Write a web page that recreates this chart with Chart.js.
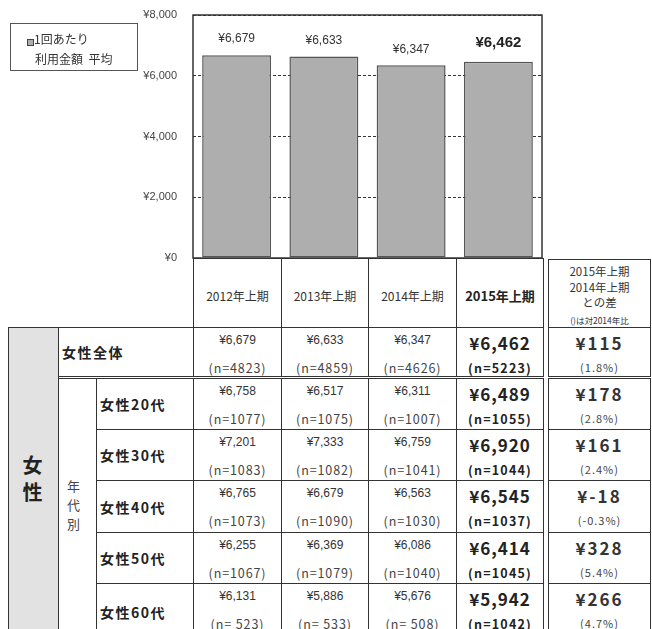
<!DOCTYPE html>
<html lang="ja">
<head>
<meta charset="utf-8">
<script src="https://cdn.jsdelivr.net/npm/chart.js@4.4.0/dist/chart.umd.min.js"></script>
<style>
  html, body { margin: 0; padding: 0; background: #fff; }
  #page { position: relative; width: 652px; height: 629px; overflow: hidden;
          font-family: "Noto Sans CJK JP", sans-serif; color: #333; }
  #chartBox { position: absolute; left: 0; top: 0; width: 652px; height: 272px; z-index: 2; }
  .cell { position: absolute; box-sizing: border-box; border: 1px solid #333; background: #fff; }
  .txt { position: absolute; left: 0; right: 0; text-align: center; white-space: pre;
         line-height: 1; transform: translateY(-50%); }
  .val { font: 12px "Liberation Sans", sans-serif; color: #333; }
  .n { font: 12.5px "Noto Sans CJK JP", sans-serif; color: #444; letter-spacing: 0.9px; }
  .bigval { font: bold 17px "Noto Sans CJK JP", sans-serif; color: #222; letter-spacing: 1px; }
  .bign { font: bold 12.5px "Noto Sans CJK JP", sans-serif; color: #222; letter-spacing: 1.2px; }
  .diffval { font: bold 17px "Noto Sans CJK JP", sans-serif; color: #333; letter-spacing: 2px; }
  .diffpct { font: 11px "Noto Sans CJK JP", sans-serif; color: #444; letter-spacing: 1px; }
  .rowlab { position: absolute; top: 50%; transform: translateY(-50%); white-space: nowrap;
            font: bold 14px "Noto Sans CJK JP", sans-serif; color: #222; letter-spacing: 1.5px; line-height: 1; }
  .head { font: 12px "Noto Sans CJK JP", sans-serif; color: #333; }
  .headbold { font: bold 13px "Noto Sans CJK JP", sans-serif; color: #222; }
  #legendBox { position: absolute; left: 10px; top: 23px; width: 128px; height: 48px; box-sizing: border-box;
               border: 1px solid #555; font: 12px "Noto Sans CJK JP", sans-serif; color: #333; z-index: 3; }
  #legendBox .sw { position: absolute; left: 16px; top: 15px; width: 5px; height: 5px;
                   background: #aeaeae; border: 1px solid #444; }
</style>
</head>
<body>
<div id="page">
  <div id="legendBox">
    <span class="sw"></span>
    <div style="position:absolute;left:23px;top:9px;line-height:1;">1回あたり</div>
    <div style="position:absolute;left:24px;top:29px;line-height:1;">利用金額&nbsp;&nbsp;平均</div>
  </div>
  <div id="chartBox"><canvas id="myChart"></canvas></div>
</div>
<script>
// Periods (bar categories / table columns)
var periods = ['2012年上期', '2013年上期', '2014年上期', '2015年上期'];

// Average spend per use, with sample sizes
var rowLabels = ['女性全体', '女性20代', '女性30代', '女性40代', '女性50代', '女性60代'];
var avgAll = [6679, 6633, 6347, 6462];
var nAll   = [4823, 4859, 4626, 5223];
var avg20s = [6758, 6517, 6311, 6489];
var n20s   = [1077, 1075, 1007, 1055];
var avg30s = [7201, 7333, 6759, 6920];
var n30s   = [1083, 1082, 1041, 1044];
var avg40s = [6765, 6679, 6563, 6545];
var n40s   = [1073, 1090, 1030, 1037];
var avg50s = [6255, 6369, 6086, 6414];
var n50s   = [1067, 1079, 1040, 1045];
var avg60s = [6131, 5886, 5676, 5942];
var n60s   = [523, 533, 508, 1042];

// 2015 vs 2014 difference
var diffYen = [115, 178, 161, -18, 328, 266];
var diffPct = ['1.8', '2.8', '2.4', '-0.3', '5.4', '4.7'];

// Y axis ticks
var yTicks = [0, 2000, 4000, 6000, 8000];

function yen(v) { return '¥' + v.toLocaleString('en-US'); }

// plot frame + value labels above bars
var frameAndLabels = {
    id: 'frameAndLabels',
    beforeDatasetsDraw: function(chart) {
        var ctx = chart.ctx, a = chart.chartArea;
        ctx.save();
        ctx.strokeStyle = '#333';
        ctx.lineWidth = 1.5;
        ctx.strokeRect(a.left, a.top, a.right - a.left, a.bottom - a.top);
        ctx.restore();
    },
    afterDatasetsDraw: function(chart) {
        var ctx = chart.ctx;
        var meta = chart.getDatasetMeta(0);
        meta.data.forEach(function(bar, i) {
            var last = (i === meta.data.length - 1);
            ctx.save();
            ctx.font = last ? 'bold 15px "Liberation Sans"' : '12px "Liberation Sans"';
            ctx.fillStyle = last ? '#222' : '#333';
            ctx.textAlign = 'center';
            ctx.textBaseline = 'middle';
            ctx.fillText(yen(avgAll[i]), bar.x, bar.y - (last ? 19 : 16));
            ctx.restore();
        });
    }
};

var ctx = document.getElementById('myChart').getContext('2d');
var myChart = new Chart(ctx, {
    type: 'bar',
    data: {
        labels: periods,
        datasets: [{
            label: '1回あたり利用金額 平均',
            data: avgAll,
            backgroundColor: '#aeaeae',
            borderColor: '#555',
            borderWidth: 1.5,
            borderSkipped: false,
            barPercentage: 0.79,
            categoryPercentage: 1
        }]
    },
    options: {
        responsive: true,
        maintainAspectRatio: false,
        animation: false,
        devicePixelRatio: 1,
        layout: { padding: { left: 0, right: 110, top: 15, bottom: 14 } },
        plugins: { legend: { display: false }, tooltip: { enabled: false } },
        scales: {
            x: { display: false },
            y: {
                min: 0,
                max: 8000,
                afterBuildTicks: function(scale) {
                    scale.ticks = yTicks.map(function(v) { return { value: v }; });
                },
                afterFit: function(scale) {
                    scale.width = 193;
                    // tick padding is horizontal only here
                    scale.paddingTop = 0;
                    scale.paddingBottom = 0;
                },
                ticks: {
                    padding: 16,
                    color: '#444',
                    font: { family: 'Liberation Sans', size: 11 },
                    callback: function(v) { return yen(v); }
                },
                grid: { color: '#333', lineWidth: 1, drawTicks: false },
                border: { display: false, dash: [3, 2] }
            }
        }
    },
    plugins: [frameAndLabels]
});

// ---- table under the chart ----
var page = document.getElementById('page');
var colX = [193, 281, 368, 456, 543];
var diffX = [548, 650];
var rowTop = [327, 378, 429, 480, 532, 583];
var rowBot = [376, 429, 480, 532, 583, 640];
var rowAvg = [avgAll, avg20s, avg30s, avg40s, avg50s, avg60s];
var rowN = [nAll, n20s, n30s, n40s, n50s, n60s];

function box(x1, y1, x2, y2) {
    var d = document.createElement('div');
    d.className = 'cell';
    d.style.left = x1 + 'px';
    d.style.top = y1 + 'px';
    d.style.width = (x2 - x1 + 1) + 'px';
    d.style.height = (y2 - y1 + 1) + 'px';
    page.appendChild(d);
    return d;
}
function text(parent, str, cy, cls) {
    var s = document.createElement('div');
    s.className = 'txt ' + cls;
    s.style.top = cy + 'px';
    s.textContent = str;
    parent.appendChild(s);
    return s;
}

// header row
periods.forEach(function(p, i) {
    var b = box(colX[i], 258, colX[i + 1], 327);
    text(b, p, 36, i === periods.length - 1 ? 'headbold' : 'head');
});
var dh = box(diffX[0], 259, diffX[1], 327);
text(dh, '2015年上期', 11, 'head').style.fontSize = '11.5px';
text(dh, '2014年上期', 27, 'head').style.fontSize = '11.5px';
text(dh, 'との差', 42, 'head').style.fontSize = '11.5px';
text(dh, '()は対2014年比', 60, 'head').style.fontSize = '8.5px';

// side label cells
var outer = box(8, 327, 58, 640);
outer.style.background = '#e2e2e2';
var big = document.createElement('div');
big.textContent = '女性';
big.style.cssText = 'position:absolute;left:13px;top:127px;writing-mode:vertical-rl;font:bold 20px "Noto Sans CJK JP";letter-spacing:7px;color:#222;line-height:1;';
outer.appendChild(big);

var age = box(58, 378, 96, 640);
var ageTxt = document.createElement('div');
ageTxt.textContent = '年代別';
ageTxt.style.cssText = 'position:absolute;left:8px;top:101px;writing-mode:vertical-rl;font:13px "Noto Sans CJK JP";letter-spacing:6px;color:#444;line-height:1;';
age.appendChild(ageTxt);

// body rows
rowLabels.forEach(function(lab, r) {
    var y1 = rowTop[r], y2 = rowBot[r];
    var lb = r === 0 ? box(58, y1, 193, y2) : box(96, y1, 193, y2);
    var l = document.createElement('div');
    l.className = 'rowlab';
    l.style.left = '3px';
    l.textContent = lab;
    lb.appendChild(l);

    rowAvg[r].forEach(function(v, i) {
        var b = box(colX[i], y1, colX[i + 1], y2);
        var last = (i === periods.length - 1);
        var nStr = '(n=' + String(rowN[r][i]).padStart(4, ' ') + ')';
        text(b, yen(v), last ? 14 : 12, last ? 'bigval' : 'val');
        text(b, nStr, 39, last ? 'bign' : 'n');
    });

    var d = box(diffX[0], y1, diffX[1], y2);
    text(d, '¥' + diffYen[r], 14, 'diffval');
    text(d, '(' + diffPct[r] + '%)', 39, 'diffpct');
});
</script>
</body>
</html>
